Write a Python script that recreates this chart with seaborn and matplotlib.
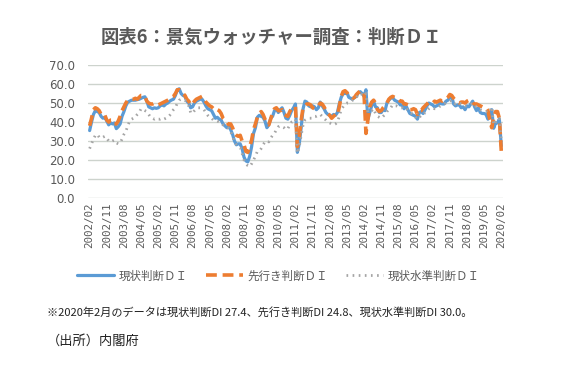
import numpy as np
import matplotlib
matplotlib.use("Agg")
import matplotlib.pyplot as plt
import pandas as pd
import seaborn as sns

# 月次データ 2002/02 - 2020/02
months = pd.date_range("2002-02-01", "2020-02-01", freq="MS").strftime("%Y/%m").tolist()

genjo = [
    35.5, 40, 44, 46, 45.5, 45, 43, 42, 42.5, 40.5, 38.5,                 # 2002
    39.5, 39, 39.5, 36.5, 37.5, 39, 43, 45.5, 48.5, 50.5, 51, 51.5,       # 2003
    51.5, 51.5, 51.8, 52, 52.5, 53, 53.3, 51, 48, 47.5, 47, 47.5,         # 2004
    47.2, 47.5, 48.5, 49, 48.5, 49.5, 50, 51, 51.6, 52, 54, 57,           # 2005
    57.5, 55, 54, 53.5, 51, 50, 47.5, 48, 50, 51, 51.5, 52,               # 2006
    52, 50.5, 48.5, 47, 46.5, 46, 44, 42, 42.5, 41.5, 41, 39,             # 2007
    38, 37, 37.5, 36, 33.5, 30, 28, 28.5, 28.5, 26, 21.5, 19.5,           # 2008
    19, 22, 27, 34, 37, 42.5, 43.5, 43, 42.5, 40.5, 37, 38.5,             # 2009
    42, 43, 46, 47, 45, 46.5, 47.5, 45, 42, 41.5, 43.5, 46,               # 2010
    47.5, 49.5, 24, 28.5, 37, 47, 51, 50.5, 48.5, 48, 48.5, 48,           # 2011
    46.5, 47.5, 50.5, 48.5, 47, 45, 44, 43.5, 43, 44, 43.5, 45,           # 2012
    49.5, 53, 55, 55, 55.5, 53, 52.5, 52, 53, 53.5, 55.5, 56,             # 2013
    55, 53.5, 57, 41.5, 45, 48.5, 51, 48, 47.5, 45, 45, 46.5,             # 2014
    46, 50, 51.5, 52.5, 53, 51.5, 51, 50.5, 49, 49, 47, 48.5,             # 2015
    46.5, 44.5, 44, 43.5, 43, 41.5, 45, 45.5, 44.5, 46.5, 48.5, 50,       # 2016
    49.5, 49, 48, 48.5, 49, 50, 49.5, 49.5, 51, 51.5, 53, 53.5,           # 2017
    49.5, 48.5, 49, 49, 47.5, 48, 46.5, 48.5, 48, 49.5, 51, 48,           # 2018
    46, 47.5, 45, 44.5, 44.5, 44, 41.5, 43, 46.5, 36.7, 39.5, 39.5,       # 2019
    41.5, 27.4,                                                           # 2020
]

sakiyuki = [
    38, 42, 46.5, 47.5, 47, 46, 44, 43, 43.5, 41, 40,
    41, 41, 39, 39, 40.5, 43, 46, 48, 50, 51.5, 51.5, 52,
    52, 52.5, 52, 53, 54, 54, 53.5, 51, 50, 49.5, 49.5, 50,
    49.5, 49, 49.5, 50, 50.5, 51, 51.5, 52, 53, 53.5, 55, 57,
    57, 56, 55, 54, 52, 51, 49, 49.5, 51, 52, 52.5, 53,
    53.5, 52.5, 50.5, 49.5, 48.5, 48, 47, 46, 46.5, 46, 44.5, 42,
    41, 40, 38.5, 39, 37, 34, 33, 32.5, 33, 30, 28, 24.5,
    24, 27, 30.5, 36, 39, 42.5, 44.5, 45.5, 44, 41.5, 39, 38.5,
    41.5, 45, 47, 47.5, 46, 46, 46.5, 44, 43.5, 43, 45.5, 47,
    47, 48, 27, 32, 41, 47.5, 48.5, 49.5, 49.5, 49, 47.5, 47,
    48, 48.5, 50, 49.5, 48, 46, 44.5, 43.5, 42, 43, 44, 43.5,
    48, 53.5, 56, 56.5, 55.5, 54, 53.5, 52.5, 53, 54.5, 55.5, 56.5,
    56.5, 54.5, 34, 41, 48, 50.5, 51.5, 50, 46.5, 45.5, 46, 47.5,
    48.5, 50, 52, 53, 53.5, 53, 52, 52, 51, 51, 49.5, 49.5,
    49, 46.5, 46.5, 47, 46.5, 44, 46, 46, 47.5, 48.5, 49.5, 50.5,
    50.5, 50, 51, 50.5, 51, 51.5, 51, 51.5, 52, 53, 54.5, 54,
    52.5, 51.5, 50.5, 50, 50.5, 50.5, 50, 51, 51.5, 51.5, 50, 49.5,
    49.5, 49, 48.5, 48, 47.5, 47.5, 46, 41, 37, 42.5, 45.5, 45.5,
    42, 24.8,
]

suijun = [
    26, 28.5, 31, 33, 33.5, 32, 31.5, 32, 32.5, 31.5, 30,
    29.5, 30, 30.5, 29, 28.5, 29, 31, 33.5, 35, 38, 40.5, 41.5,
    42, 42.5, 44, 45, 47, 46.5, 46, 45.5, 44, 42.5, 42, 41.5,
    42, 41.5, 41.5, 42, 41.5, 42, 42.5, 43.5, 45, 46.5, 47.5, 50,
    51.5, 52, 51.5, 51.5, 50, 48.5, 45, 44.5, 46, 47, 47.5, 47.5,
    47, 46.5, 45, 43.5, 42.5, 42, 41, 41, 40.5, 40, 39.5, 38.5,
    38, 37.5, 36.5, 35, 32.5, 29.5, 28, 27, 26.5, 23.5, 20, 18,
    17, 16.5, 18, 20, 22, 24.5, 25, 26, 28, 29.5, 30, 29.5,
    31.5, 33, 34, 36, 37.5, 38, 37.5, 37, 36, 36.5, 38.5, 40,
    40.5, 41.5, 23.5, 27, 33, 38.5, 41, 41.5, 42, 42, 42, 43,
    43, 43.5, 44, 43, 42, 41, 40, 39.5, 39, 38.5, 39, 40,
    43, 46.5, 48, 49.5, 50, 50, 50.5, 51.5, 52, 53, 54.5, 55,
    54.5, 53.5, 55, 45, 45.5, 46, 47, 44.5, 43, 42.5, 42, 43,
    44, 45.5, 46.5, 47.5, 49, 48.5, 48.5, 48, 47.5, 47.5, 46.5, 47,
    46.5, 45.5, 44.5, 44, 42.5, 41.5, 42.5, 43.5, 43.5, 45, 45.5, 47,
    47.5, 47.5, 47, 47, 47.5, 48.5, 49, 49.5, 50, 50.5, 51, 51.5,
    50, 49.5, 50, 50, 49.5, 49.5, 48.5, 48.5, 49, 49.5, 50, 49,
    48, 47.5, 46.5, 46, 45.5, 45.5, 45, 45.5, 48, 38.5, 40, 41,
    42, 30.0,
]

series_names = ["現状判断ＤＩ", "先行き判断ＤＩ", "現状水準判断ＤＩ"]
colors = ["#5B9BD5", "#ED7D31", "#A5A5A5"]

sns.set_style("white")
plt.rcParams["font.family"] = ["Noto Sans CJK JP", "DejaVu Sans"]

x = np.arange(len(months))
df = pd.DataFrame({"x": x, series_names[0]: genjo,
                   series_names[1]: sakiyuki, series_names[2]: suijun})

fig = plt.figure(figsize=(5.66, 3.72), dpi=100)
ax = fig.add_axes([0.155, 0.468, 0.734, 0.357])

styles = [dict(lw=2.3), dict(lw=2.6, dashes=(3, 1.6)), dict(lw=2.0, dashes=(0.6, 1.6))]
for name, c, st in zip(series_names, colors, styles):
    sns.lineplot(data=df, x="x", y=name, ax=ax, color=c, label=name, **st)

ax.set_ylim(0, 70)
ax.set_yticks(np.arange(0, 71, 10))
ax.set_yticklabels([f"{v:.1f}" for v in np.arange(0, 71, 10)], fontsize=8.5,
                   color="#595959", family="DejaVu Sans")
ax.set_xlim(-1, len(months))
tick_pos = x[::9]
ax.set_xticks(tick_pos)
ax.set_xticklabels([months[i] for i in tick_pos], rotation=90, fontsize=7.8,
                   color="#595959", family="DejaVu Sans Mono")
ax.tick_params(axis="x", length=0, pad=3)
ax.tick_params(axis="y", length=0, pad=9)
ax.grid(axis="y", color="#CDD3CD", lw=1)
for s in ax.spines.values():
    s.set_visible(False)
ax.set_xlabel("")
ax.set_ylabel("")
ax.get_legend().remove()

h, l = ax.get_legend_handles_labels()
leg = fig.legend(h, l, loc="center", bbox_to_anchor=(0.492, 0.258), ncol=3,
                 frameon=False, fontsize=8.3, handlelength=3.2, columnspacing=1.6,
                 handletextpad=0.4)
for t in leg.get_texts():
    t.set_color("#595959")

fig.text(0.48, 0.9, "図表6：景気ウォッチャー調査：判断ＤＩ", ha="center", va="center",
         fontsize=13.2, fontweight="bold", color="#595959")
fig.text(0.083, 0.16, "※2020年2月のデータは現状判断DI 27.4、先行き判断DI 24.8、現状水準判断DI 30.0。",
         ha="left", va="center", fontsize=8, color="#222222")
fig.text(0.083, 0.083, "（出所）内閣府", ha="left", va="center", fontsize=9.5, color="#222222")

fig.savefig("out.png", dpi=100)
